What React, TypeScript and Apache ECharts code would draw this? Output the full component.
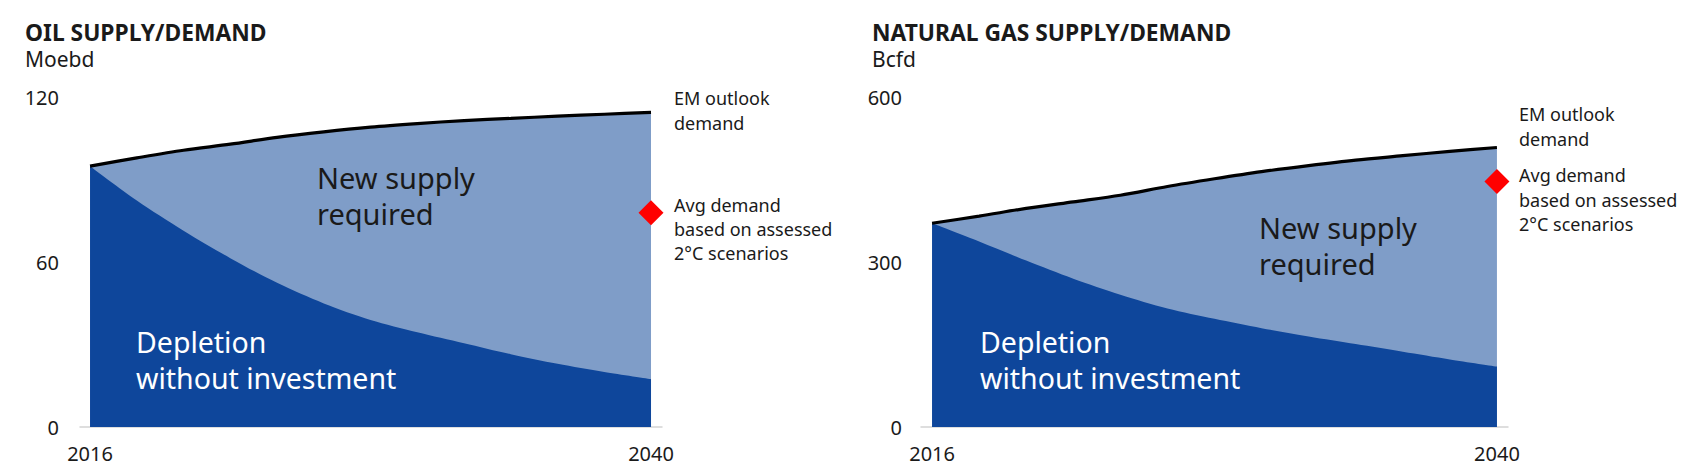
import React, { useEffect, useRef } from "react";
import * as echarts from "echarts";

const years = [2016, 2018, 2020, 2022, 2024, 2026, 2028, 2030, 2032, 2034, 2036, 2038, 2040];
const oilDemand = [95, 98, 100.8, 103, 105.5, 107.5, 109.2, 110.5, 111.6, 112.4, 113.2, 113.9, 114.6];
const oilDepletion = [95, 82.5, 71.5, 61.5, 52.5, 45, 39, 34.5, 30.5, 26.5, 23, 20, 17.4];
const gasDemand = [371, 384, 398, 410, 422, 438, 452, 465, 476, 486, 494, 502, 509];
const gasDepletion = [371, 338, 303, 270, 241, 216, 197, 180, 165, 151, 137, 123, 110];
const oilAvg2C = [2040, 78];
const gasAvg2C = [2040, 447];
const oilTicks = [0, 60, 120];
const gasTicks = [0, 300, 600];
const xTicks = [2016, 2040];

const FONT = '"Noto Sans", "Open Sans", sans-serif';
const DARK = "#0E469B";
const LIGHT = "#7F9DC8";
const TXT = "#1a1a1a";

function pairs(vals: number[]) {
  return years.map((y, i) => [y, vals[i]]);
}

function txt(text: string, x: number, y: number, size: number, opts: any = {}) {
  return {
    type: "text",
    silent: true,
    z: 100,
    zlevel: 0,
    style: {
      text,
      x,
      y,
      fill: opts.fill || TXT,
      font: `${opts.weight || "normal"} ${size}px ${FONT}`,
      align: opts.align || "left",
      verticalAlign: "middle",
    },
  };
}

export default function App() {
  const ref = useRef<HTMLDivElement>(null);
  useEffect(() => {
    if (!ref.current) return;
    const chart = echarts.init(ref.current, undefined, { renderer: "svg" });
    const xAxisBase = (gi: number, min: number, max: number) => ({
      type: "value",
      gridIndex: gi,
      min,
      max,
      axisLine: { show: true, lineStyle: { color: "#d4d4d4", width: 1.5 } },
      axisTick: { show: false },
      splitLine: { show: false },
      axisLabel: {
        customValues: xTicks,
        formatter: (v: number) => String(v),
        fontSize: 20,
        fontFamily: FONT,
        color: TXT,
        margin: 16,
      },
    });
    const yAxisBase = (gi: number, ticks: number[], margin: number) => ({
      type: "value",
      gridIndex: gi,
      min: 0,
      max: ticks[ticks.length - 1],
      interval: ticks[1] - ticks[0],
      axisLine: { show: false },
      axisTick: { show: false },
      splitLine: { show: false },
      axisLabel: {
        fontSize: 20,
        fontFamily: FONT,
        color: TXT,
        margin,
      },
    });
    const areaSeries = (gi: number, vals: number[], color: string, z: number) => ({
      type: "line",
      xAxisIndex: gi,
      yAxisIndex: gi,
      data: pairs(vals),
      showSymbol: false,
      symbol: "none",
      smooth: 0.3,
      lineStyle: { width: 0 },
      areaStyle: { color, opacity: 1 },
      z,
      silent: true,
    });
    const lineSeries = (gi: number, vals: number[]) => ({
      type: "line",
      xAxisIndex: gi,
      yAxisIndex: gi,
      data: pairs(vals),
      showSymbol: false,
      symbol: "none",
      smooth: 0.3,
      lineStyle: { width: 3.2, color: "#000" },
      z: 5,
      silent: true,
    });
    const diamond = (gi: number, pt: number[]) => ({
      type: "scatter",
      xAxisIndex: gi,
      yAxisIndex: gi,
      data: [pt],
      symbol: "diamond",
      symbolSize: [25, 25],
      itemStyle: { color: "#FF0000", opacity: 1 },
      clip: false,
      z: 6,
      silent: true,
    });
    chart.setOption({
      animation: false,
      grid: [
        { left: 80, top: 97.5, width: 582, height: 329.5 },
        { left: 921, top: 97.5, width: 587, height: 329.5 },
      ],
      xAxis: [xAxisBase(0, 2015.57, 2040.47), xAxisBase(1, 2015.53, 2040.47)],
      yAxis: [yAxisBase(0, oilTicks, 21), yAxisBase(1, gasTicks, 19)],
      series: [
        areaSeries(0, oilDemand, LIGHT, 2),
        areaSeries(0, oilDepletion, DARK, 3),
        lineSeries(0, oilDemand),
        diamond(0, oilAvg2C),
        areaSeries(1, gasDemand, LIGHT, 2),
        areaSeries(1, gasDepletion, DARK, 3),
        lineSeries(1, gasDemand),
        diamond(1, gasAvg2C),
      ],
      graphic: [
        txt("OIL SUPPLY/DEMAND", 25, 32, 22.8, { weight: "bold" }),
        txt("Moebd", 25, 59, 21),
        txt("NATURAL GAS SUPPLY/DEMAND", 872, 32, 22.8, { weight: "bold" }),
        txt("Bcfd", 872, 59, 21),
        txt("New supply", 317, 177.5, 29),
        txt("required", 317, 213, 29),
        txt("Depletion", 136, 341.5, 28.5, { fill: "#ffffff" }),
        txt("without investment", 136, 378, 28.5, { fill: "#ffffff" }),
        txt("New supply", 1259, 227, 29),
        txt("required", 1259, 263, 29),
        txt("Depletion", 980, 341.5, 28.5, { fill: "#ffffff" }),
        txt("without investment", 980, 378, 28.5, { fill: "#ffffff" }),
        txt("EM outlook", 674, 98, 18),
        txt("demand", 674, 122.5, 18),
        txt("Avg demand", 674, 205, 18),
        txt("based on assessed", 674, 229, 18),
        txt("2°C scenarios", 674, 253, 18),
        txt("EM outlook", 1519, 114, 18),
        txt("demand", 1519, 139, 18),
        txt("Avg demand", 1519, 175, 18),
        txt("based on assessed", 1519, 199.5, 18),
        txt("2°C scenarios", 1519, 223.5, 18),
      ],
    });
    return () => chart.dispose();
  }, []);
  return (
    <div
      ref={ref}
      style={{ position: "fixed", left: 0, top: 0, width: 1693, height: 471, background: "#fff" }}
    />
  );
}
